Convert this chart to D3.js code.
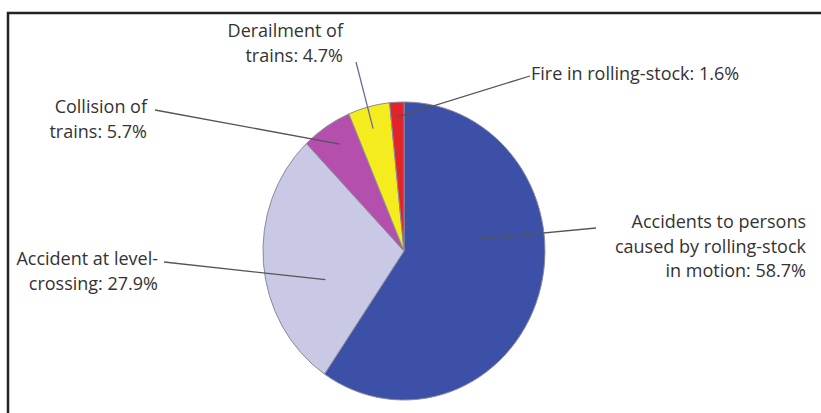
<!DOCTYPE html>
<html><head><meta charset="utf-8">
<script src="https://cdn.jsdelivr.net/npm/d3@7"></script>
<style>body{margin:0;background:#fff}svg{display:block}</style>
</head><body>
<script>
// Data
const categories = [
  "Accidents to persons caused by rolling-stock in motion",
  "Accident at level-crossing",
  "Collision of trains",
  "Derailment of trains",
  "Fire in rolling-stock"
];
const values = [58.7, 27.9, 5.7, 4.7, 1.6];
const labelLines = [
  ["Accidents to persons", "caused by rolling-stock", "in motion: 58.7%"],
  ["Accident at level-", "crossing: 27.9%"],
  ["Collision of", "trains: 5.7%"],
  ["Derailment of", "trains: 4.7%"],
  ["Fire in rolling-stock: 1.6%"]
];
const colors = ["#3b50a6", "#c9c8e5", "#b44fae", "#f4ec1c", "#e3232b"];

// Layout
const W = 821, H = 413;
const cx = 404, cy = 251, rx = 141, ry = 149;
const fontSize = 18, lineH = 24.5;
const layout = [
  {x: 806, y: 228, anchor: "end", end: [596, 228], t: 0.38, r: 0.52, lc: "#555"},
  {x: 158, y: 265, anchor: "end", end: [164, 262], t: 0.36, r: 0.59, lc: "#555"},
  {x: 147, y: 113, anchor: "end", end: [155, 110], t: 0.55, r: 0.85, lc: "#555"},
  {x: 343, y: 37, anchor: "end", end: [356, 62], t: 0.47, r: 0.85, lc: "#6a6a9e"},
  {x: 531, y: 80, anchor: "start", end: [530, 76], t: 0.47, r: 0.9, lc: "#555"}
];

const svg = d3.select("body").append("svg").attr("width", W).attr("height", H);
svg.append("rect").attr("width", W).attr("height", H).attr("fill", "#fff");

svg.append("path")
  .attr("d", `M8,${H} L8,13 L${W},13`)
  .attr("fill", "none").attr("stroke", "#222").attr("stroke-width", 2.5);

const pie = d3.pie().sort(null).value(d => d).startAngle(0).endAngle(2 * Math.PI);
const arcs = pie(values);
const arc = d3.arc().innerRadius(0).outerRadius(1);

const g = svg.append("g").attr("transform", `translate(${cx},${cy}) scale(${rx},${ry})`);
g.selectAll("path").data(arcs).join("path")
  .attr("d", arc)
  .attr("fill", (d, i) => colors[i])
  .attr("stroke", "#8a8a9c")
  .attr("stroke-width", 1)
  .attr("vector-effect", "non-scaling-stroke");

function anchorPoint(a, L) {
  const ang = a.startAngle + (a.endAngle - a.startAngle) * L.t;
  return [cx + Math.sin(ang) * rx * L.r, cy - Math.cos(ang) * ry * L.r];
}

svg.selectAll("line.leader").data(arcs).join("line")
  .attr("class", "leader")
  .attr("x1", (d, i) => anchorPoint(d, layout[i])[0])
  .attr("y1", (d, i) => anchorPoint(d, layout[i])[1])
  .attr("x2", (d, i) => layout[i].end[0])
  .attr("y2", (d, i) => layout[i].end[1])
  .attr("stroke", (d, i) => layout[i].lc)
  .attr("stroke-width", 1.3);

const lg = svg.selectAll("text.lbl").data(labelLines).join("text")
  .attr("class", "lbl")
  .attr("font-family", "'Open Sans', 'Noto Sans', sans-serif")
  .attr("font-size", fontSize)
  .attr("fill", "#333")
  .attr("text-anchor", (d, i) => layout[i].anchor);
lg.selectAll("tspan").data((d, i) => d.map(s => ({s, i}))).join("tspan")
  .attr("x", d => layout[d.i].x)
  .attr("y", (d, j) => layout[d.i].y + j * lineH)
  .text(d => d.s);
</script>
</body></html>
